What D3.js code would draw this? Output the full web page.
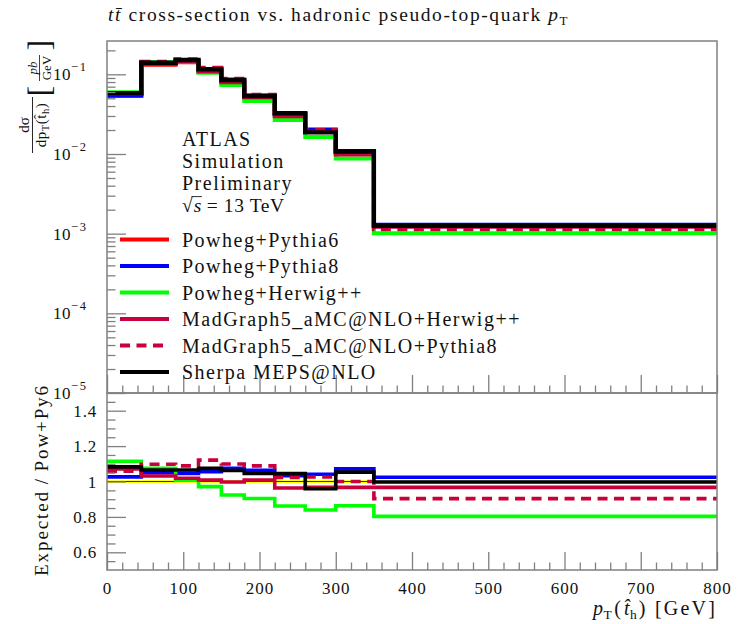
<!DOCTYPE html>
<html>
<head>
<meta charset="utf-8">
<script src="https://cdn.jsdelivr.net/npm/d3@7"></script>
<style>
  html, body { margin: 0; padding: 0; background: #fff; }
  svg text { font-family: "Liberation Serif", "DejaVu Serif", serif; fill: #111; }
</style>
</head>
<body>
<svg id="chart" width="742" height="624"></svg>
<script>
// pT bin edges of the hadronic pseudo-top quark [GeV]
const binEdges = [0, 45, 90, 120, 150, 180, 220, 260, 300, 350, 800];

// dsigma/dpT [pb/GeV] per bin for each generator setup
const powhegPythia6 = [0.0534, 0.1315, 0.1418, 0.1076, 0.0798, 0.0511, 0.0310, 0.0195, 0.0102, 0.00126];
const powhegPythia8 = [0.0548, 0.1381, 0.1483, 0.1135, 0.0857, 0.0543, 0.0320, 0.0203, 0.01093, 0.00129];
const powhegHerwig = [0.0595, 0.1414, 0.1429, 0.1045, 0.0737, 0.0462, 0.0267, 0.01636, 0.0088, 0.001012];
const mg5Herwig = [0.0572, 0.1356, 0.1444, 0.1085, 0.0796, 0.0515, 0.02985, 0.01886, 0.00986, 0.001218];
const mg5Pythia8 = [0.0565, 0.1443, 0.1543, 0.1206, 0.0877, 0.0556, 0.0317, 0.0200, 0.0102, 0.001138];
const sherpa = [0.0578, 0.1400, 0.1510, 0.1156, 0.0848, 0.0534, 0.0324, 0.0187, 0.01074, 0.001256];

// axis ticks
const logExponents = [-5, -4, -3, -2, -1];
const ratioTicks = [0.6, 0.8, 1, 1.2, 1.4];
const xTicks = [0, 100, 200, 300, 400, 500, 600, 700, 800];

const seriesNames = ["Powheg+Pythia6", "Powheg+Pythia8", "Powheg+Herwig++",
  "MadGraph5_aMC@NLO+Herwig++", "MadGraph5_aMC@NLO+Pythia8", "Sherpa MEPS@NLO"];

const series = [
  { name: seriesNames[0], values: powhegPythia6, color: "#ff0000", dash: null },
  { name: seriesNames[1], values: powhegPythia8, color: "#0000ff", dash: null },
  { name: seriesNames[2], values: powhegHerwig, color: "#00ff00", dash: null },
  { name: seriesNames[3], values: mg5Herwig, color: "#c8003c", dash: null },
  { name: seriesNames[4], values: mg5Pythia8, color: "#c8003c", dash: "10,6.5" },
  { name: seriesNames[5], values: sherpa, color: "#000000", dash: null }
];
const reference = powhegPythia6;

// ---- layout ----
const L = 107, R = 717;
const topY0 = 41, topY1 = 393, botY1 = 570;
const frameColor = "#808080";

const svg = d3.select("#chart");

const x = d3.scaleLinear().domain([0, 800]).range([L, R]);
const y = d3.scaleLog().domain([1e-5, 0.262]).range([topY1, topY0]);
const yr = d3.scaleLinear().domain([0.5, 1.5]).range([botY1, topY1]);

const defs = svg.append("defs");
defs.append("clipPath").attr("id", "clipTop").append("rect")
  .attr("x", L).attr("y", topY0).attr("width", R - L).attr("height", topY1 - topY0);
defs.append("clipPath").attr("id", "clipBot").append("rect")
  .attr("x", L).attr("y", topY1).attr("width", R - L).attr("height", botY1 - topY1);

const stepPoints = vals => vals.flatMap((v, i) => [[binEdges[i], v], [binEdges[i + 1], v]]);

// ---- title ----
const title = svg.append("text").attr("x", 108).attr("y", 21).attr("font-size", 19.5)
  .attr("letter-spacing", 1.6);
title.append("tspan").attr("font-style", "italic").text("t");
title.append("tspan").attr("font-style", "italic").text("t\u0304");
title.append("tspan").text(" cross-section vs. hadronic pseudo-top-quark ");
title.append("tspan").attr("font-style", "italic").text("p");
title.append("tspan").attr("font-size", 13).attr("dy", 4).text("T");

// ---- upper panel ----
const gTop = svg.append("g");
const lineTop = d3.line().x(d => x(d[0])).y(d => y(d[1]));
const curves = gTop.append("g").attr("clip-path", "url(#clipTop)");
series.forEach(s => {
  curves.append("path")
    .attr("d", lineTop(stepPoints(s.values)))
    .attr("fill", "none")
    .attr("stroke", s.color)
    .attr("stroke-width", s.color === "#000000" ? 4.4 : 4)
    .attr("stroke-dasharray", s.dash)
    .attr("stroke-linejoin", "miter");
});

// log ticks (inward)
const majorLog = logExponents.map(e => Math.pow(10, e));
const minorLog = [];
logExponents.forEach(e => { for (let k = 2; k <= 9; k++) { const v = k * Math.pow(10, e); if (v <= y.domain()[1]) minorLog.push(v); } });

function styleAxis(g) {
  g.select(".domain").remove();
  g.selectAll("line").attr("stroke", frameColor).attr("stroke-width", 1.3);
  g.selectAll("text").remove();
}
gTop.append("g").attr("transform", `translate(${L},0)`)
  .call(d3.axisRight(y).tickValues(majorLog).tickSize(19).tickFormat("")).call(styleAxis);
gTop.append("g").attr("transform", `translate(${L},0)`)
  .call(d3.axisRight(y).tickValues(minorLog).tickSize(8.5).tickFormat("")).call(styleAxis);

// decade labels
logExponents.forEach(e => {
  const ty = y(Math.pow(10, e));
  svg.append("text").attr("x", 53).attr("y", ty + 6).attr("font-size", 17).attr("letter-spacing", 0.5).text("10");
  svg.append("text").attr("x", 71).attr("y", ty - 3).attr("font-size", 12.5).attr("letter-spacing", 1.8)
    .text("\u2212" + Math.abs(e));
});

// x ticks along the bottom of upper panel
const xMinor = d3.range(0, 801, 20).filter(v => v % 100 !== 0);
gTop.append("g").attr("transform", `translate(0,${topY1})`)
  .call(d3.axisTop(x).tickValues(xTicks).tickSize(18).tickFormat("")).call(styleAxis);
gTop.append("g").attr("transform", `translate(0,${topY1})`)
  .call(d3.axisTop(x).tickValues(xMinor).tickSize(7.5).tickFormat("")).call(styleAxis);

// ATLAS label block
const atlas = ["ATLAS", "Simulation", "Preliminary"];
atlas.forEach((t, i) => {
  svg.append("text").attr("x", 182).attr("y", 146 + 22 * i).attr("font-size", 20)
    .attr("letter-spacing", 1.5).text(t);
});
const sq = svg.append("text").attr("x", 182).attr("y", 212).attr("font-size", 19.5);
sq.append("tspan").text("\u221A");
sq.append("tspan").attr("font-style", "italic").attr("dx", 1).text("s");
sq.append("tspan").attr("letter-spacing", 0.6).text(" = 13 TeV");
{
  const n = sq.node();
  const r0 = n.getExtentOfChar(0), r1 = n.getExtentOfChar(1);
  const barY = r0.y + 1.6;
  svg.append("line").attr("x1", r0.x + r0.width - 1.2).attr("x2", r1.x + r1.width + 0.5)
    .attr("y1", barY).attr("y2", barY).attr("stroke", "#111").attr("stroke-width", 0.9);
}

// legend
series.forEach((s, i) => {
  const ly = 239.5 + 26.5 * i;
  svg.append("line").attr("x1", 120).attr("x2", 169).attr("y1", ly).attr("y2", ly)
    .attr("stroke", s.color).attr("stroke-width", 4).attr("stroke-dasharray", s.dash);
  svg.append("text").attr("x", 182).attr("y", ly + 7).attr("font-size", 20)
    .attr("letter-spacing", 1.5).text(s.name);
});

// ---- ratio panel ----
const gBot = svg.append("g");
const lineBot = d3.line().x(d => x(d[0])).y(d => yr(d[1]));
const rc = gBot.append("g").attr("clip-path", "url(#clipBot)");
// reference band
rc.append("rect").attr("x", x(0)).attr("width", x(800) - x(0))
  .attr("y", yr(1.008)).attr("height", yr(0.992) - yr(1.008)).attr("fill", "#ffff00");
rc.append("path").attr("d", lineBot(stepPoints(reference.map(() => 1))))
  .attr("fill", "none").attr("stroke", "#333").attr("stroke-width", 1);
series.slice(1).forEach(s => {
  const ratio = s.values.map((v, i) => v / reference[i]);
  rc.append("path")
    .attr("d", lineBot(stepPoints(ratio)))
    .attr("fill", "none")
    .attr("stroke", s.color)
    .attr("stroke-width", 3.6)
    .attr("stroke-dasharray", s.dash);
});

const rMinor = d3.range(0.55, 1.5, 0.05).map(v => +v.toFixed(2)).filter(v => !ratioTicks.some(t => Math.abs(t - v) < 1e-6));
gBot.append("g").attr("transform", `translate(${L},0)`)
  .call(d3.axisRight(yr).tickValues(ratioTicks).tickSize(19).tickFormat("")).call(styleAxis);
gBot.append("g").attr("transform", `translate(${L},0)`)
  .call(d3.axisRight(yr).tickValues(rMinor).tickSize(8.5).tickFormat("")).call(styleAxis);
gBot.append("g").attr("transform", `translate(0,${botY1})`)
  .call(d3.axisTop(x).tickValues(xTicks).tickSize(18).tickFormat("")).call(styleAxis);
gBot.append("g").attr("transform", `translate(0,${botY1})`)
  .call(d3.axisTop(x).tickValues(xMinor).tickSize(7.5).tickFormat("")).call(styleAxis);

ratioTicks.forEach(t => {
  svg.append("text").attr("x", 97).attr("y", yr(t) + 6).attr("font-size", 17)
    .attr("text-anchor", "end").attr("letter-spacing", 0.8).text(d3.format("")(t));
});
xTicks.forEach(t => {
  svg.append("text").attr("x", x(t) + 0.5).attr("y", 594).attr("font-size", 17)
    .attr("text-anchor", "middle").attr("letter-spacing", 1).text(t);
});

// frames
[[topY0, topY1], [topY1, botY1]].forEach(([a, b]) => {
  svg.append("rect").attr("x", L).attr("y", a).attr("width", R - L).attr("height", b - a)
    .attr("fill", "none").attr("stroke", frameColor).attr("stroke-width", 1.5);
});

// x-axis title
const xt = svg.append("text").attr("x", R).attr("y", 615).attr("font-size", 20).attr("text-anchor", "end");
xt.append("tspan").attr("font-style", "italic").text("p");
xt.append("tspan").attr("font-size", 13.5).attr("dy", 4).attr("dx", 0.5).text("T");
xt.append("tspan").attr("dy", -4).attr("dx", 2.5).text("(");
xt.append("tspan").attr("font-style", "italic").attr("dx", 3).text("t\u0302");
xt.append("tspan").attr("font-size", 13.5).attr("dy", 4).attr("dx", 0.5).text("h");
xt.append("tspan").attr("dy", -4).attr("dx", 2).attr("letter-spacing", 2.2).text(") [GeV]");

// y-axis title (upper): dσ/dpT(t̂h) [pb/GeV]
const yl = svg.append("g").attr("transform", "rotate(-90)");
yl.append("text").attr("x", -125).attr("y", 29).attr("font-size", 15).attr("text-anchor", "middle")
  .text("d\u03C3");
yl.append("line").attr("x1", -153).attr("x2", -97).attr("y1", 32.5).attr("y2", 32.5)
  .attr("stroke", "#111").attr("stroke-width", 0.9);
const den = yl.append("text").attr("x", -125).attr("y", 46).attr("font-size", 15).attr("text-anchor", "middle")
  .attr("letter-spacing", 0.5);
den.append("tspan").text("dp");
den.append("tspan").attr("font-size", 10.5).attr("dy", 3).text("T");
den.append("tspan").attr("dy", -3).text("(t\u0302");
den.append("tspan").attr("font-size", 10.5).attr("dy", 3).text("h");
den.append("tspan").attr("dy", -3).text(")");
yl.append("text").attr("x", -91).attr("y", 50).attr("font-size", 31).attr("text-anchor", "middle").text("[");
yl.append("text").attr("x", -45).attr("y", 50).attr("font-size", 31).attr("text-anchor", "middle").text("]");
yl.append("text").attr("x", -68).attr("y", 36.5).attr("font-size", 13).attr("font-style", "italic")
  .attr("text-anchor", "middle").text("pb");
yl.append("line").attr("x1", -81).attr("x2", -55).attr("y1", 39.5).attr("y2", 39.5)
  .attr("stroke", "#111").attr("stroke-width", 0.8);
yl.append("text").attr("x", -68).attr("y", 50.5).attr("font-size", 13)
  .attr("text-anchor", "middle").text("GeV");

// y-axis title (ratio)
svg.append("text").attr("transform", "rotate(-90)").attr("x", -480).attr("y", 48)
  .attr("font-size", 19).attr("text-anchor", "middle").attr("letter-spacing", 1.9)
  .text("Expected\u2009/\u2009Pow+Py6");
</script>
</body>
</html>
